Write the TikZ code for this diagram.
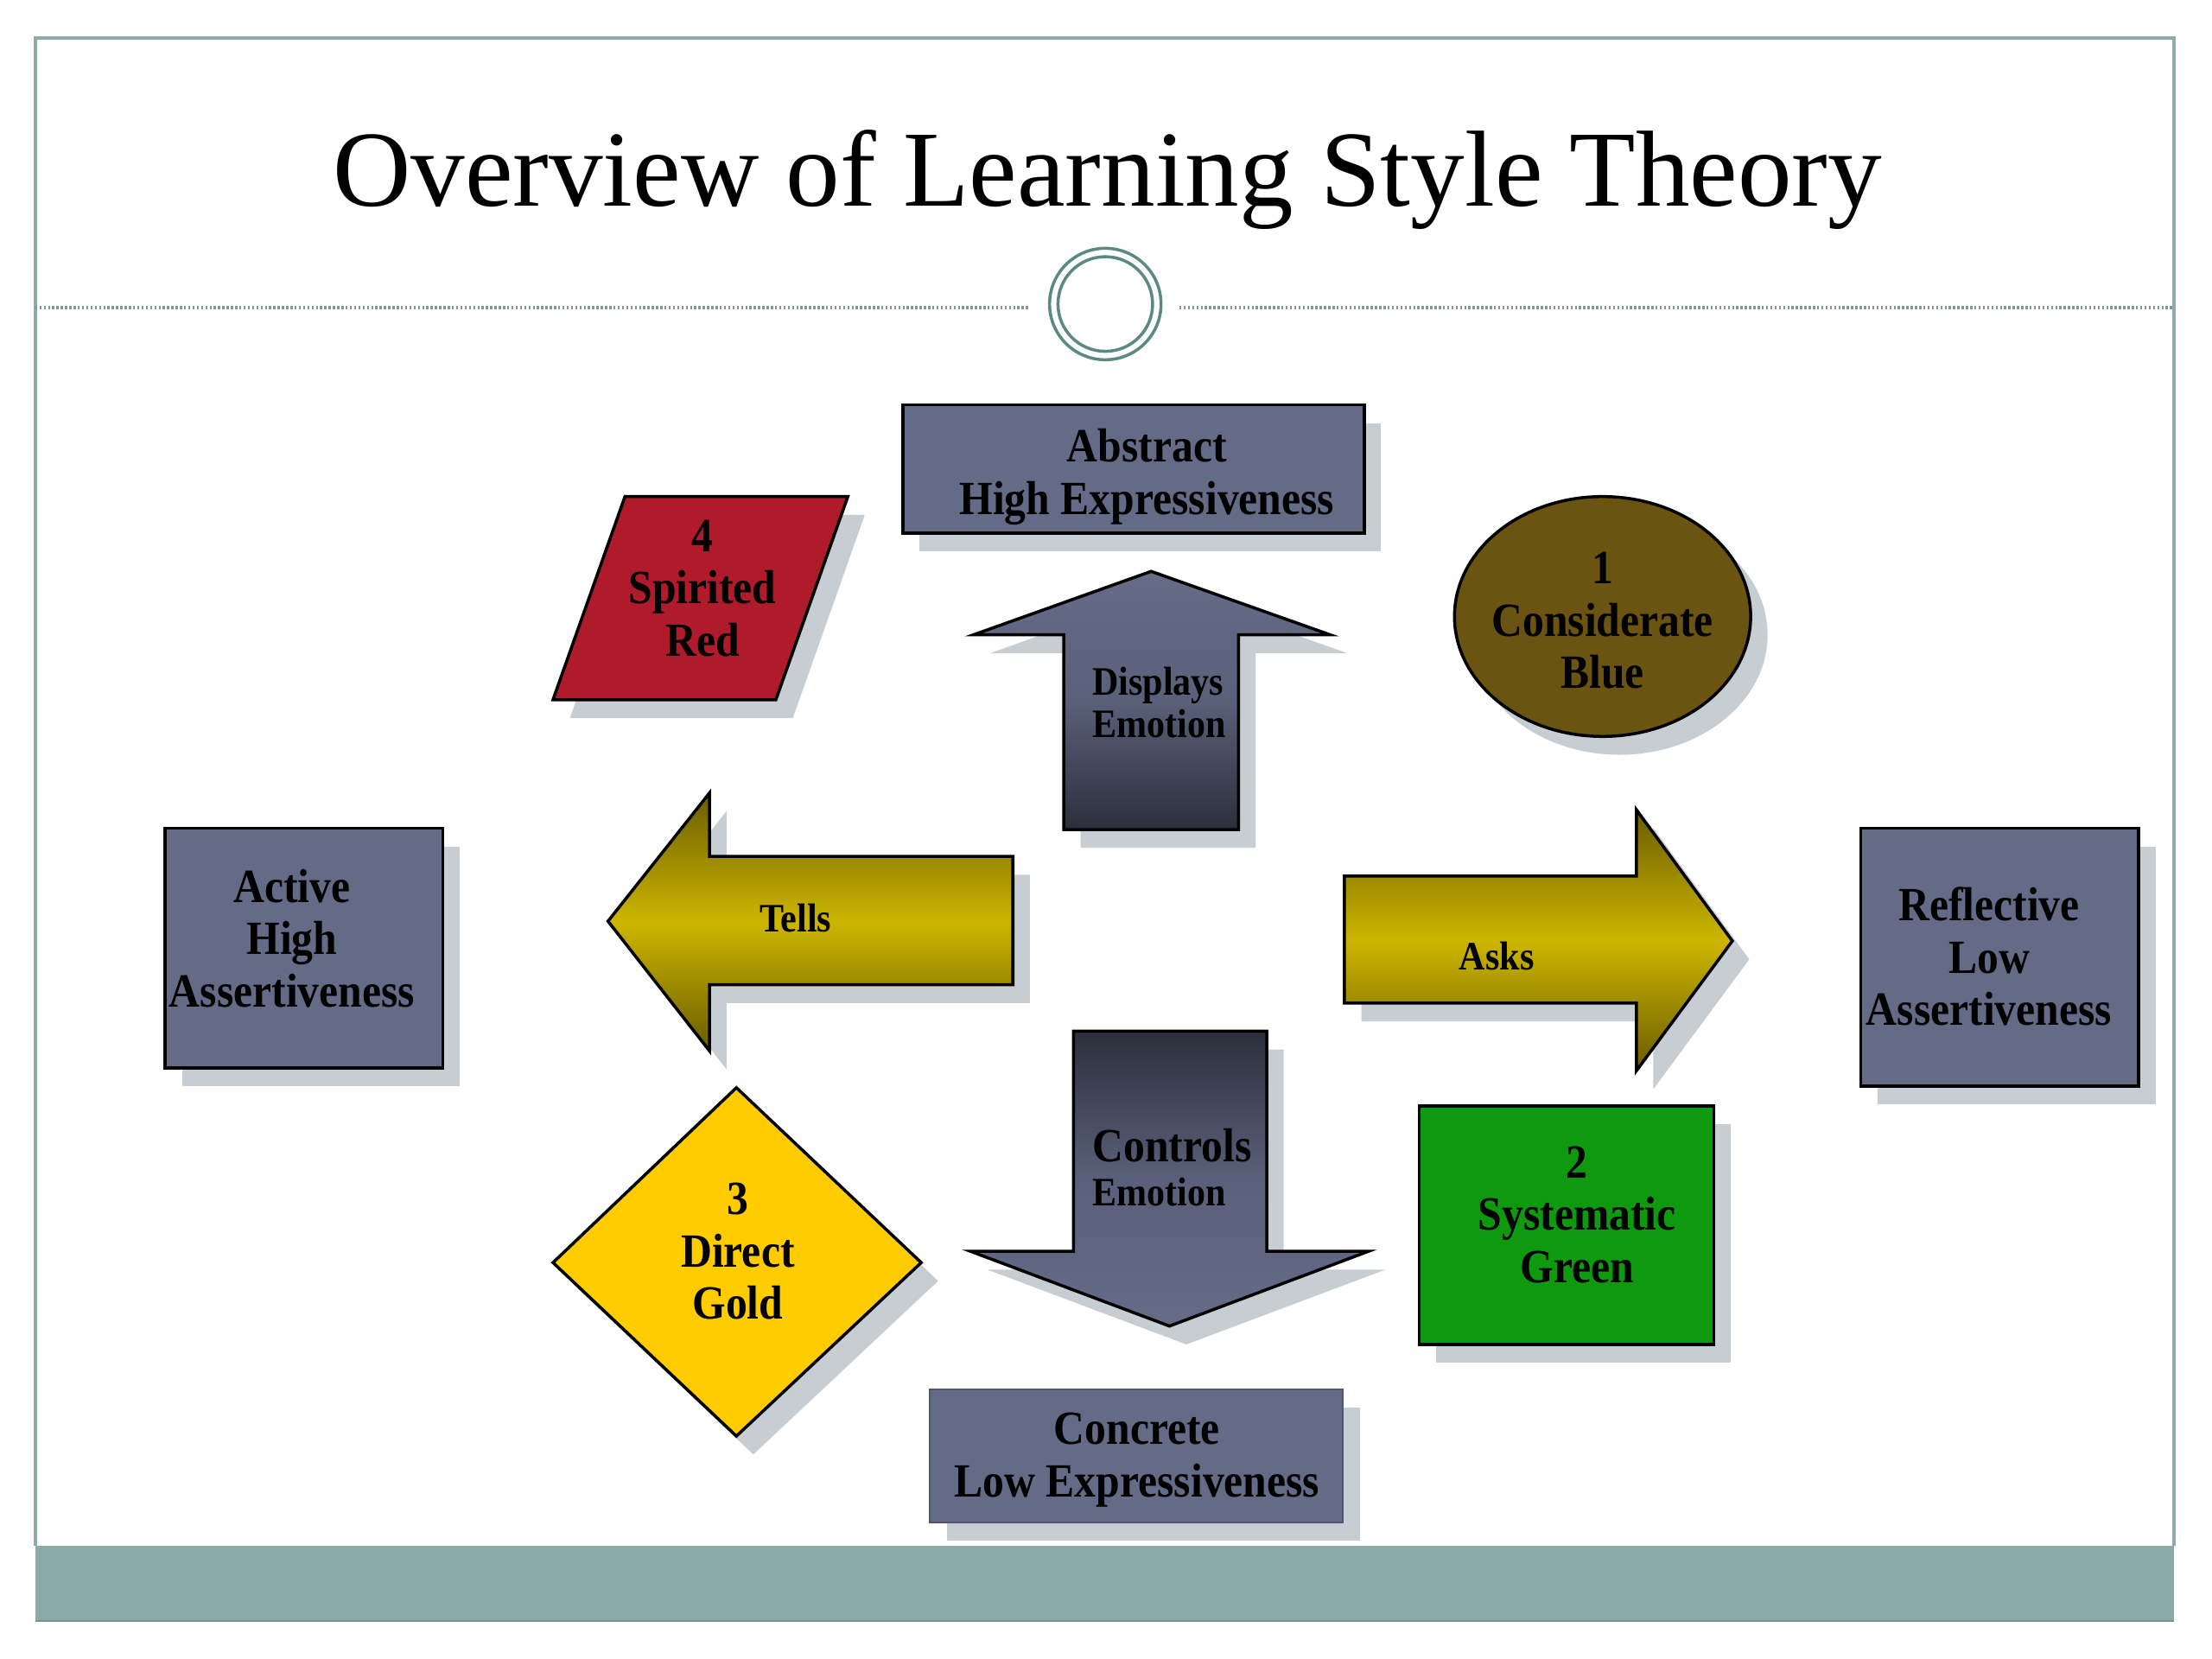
\documentclass[tikz,border=0pt]{standalone}
\usepackage{fontspec}
\setmainfont{Liberation Serif}
\newfontfamily\bodyfont[FakeStretch=0.9]{Liberation Serif}
\definecolor{slate}{HTML}{646B87}
\definecolor{shadowc}{HTML}{C6CED3}
\definecolor{framec}{HTML}{8FAAAA}
\definecolor{ringc}{HTML}{5A8A80}
\definecolor{bandc}{HTML}{8CAAAA}
\definecolor{redc}{HTML}{B01B2C}
\definecolor{brownc}{HTML}{6B5311}
\definecolor{goldc}{HTML}{FFCC00}
\definecolor{greenc}{HTML}{0E990E}
\definecolor{upTop}{HTML}{666C88}
\definecolor{upMid}{HTML}{5A6079}
\definecolor{upBot}{HTML}{2C2F3B}
\definecolor{ydark}{HTML}{6A5C00}
\definecolor{ybright}{HTML}{CDB600}
\begin{document}
\begin{tikzpicture}[x=0.016327cm,y=-0.016327cm,
  dropsh/.style={fill=shadowc, shift={(12,13)}},
  boxsty/.style={fill=slate, draw=black, line width=1pt},
  outl/.style={draw=black, line width=1pt},
  bigtxt/.style={font=\bodyfont\bfseries\fontsize{15.7}{17.2}\selectfont, align=center, inner sep=0pt},
  smalltxt/.style={font=\bodyfont\bfseries\fontsize{13.3}{13.9}\selectfont, align=left, inner sep=0pt},
  upsh/.style={top color=upTop, bottom color=upBot, middle color=upMid},
  downsh/.style={top color=upBot, bottom color=upTop, middle color=upMid},
  ysh/.style={top color=ydark, bottom color=ydark, middle color=ybright}]
\useasboundingbox (0,0) rectangle (1568,1176);
\fill[white] (0,0) rectangle (1568,1176);

% frame
\draw[framec, line width=1.1pt] (25,1096) -- (25,27) -- (1541,27) -- (1541,1096);
\fill[bandc] (25,1096) rectangle (1541,1149);
\draw[framec!85!black, line width=0.6pt] (25,1149) -- (1541,1149);

% title and separator
\node[font=\fontsize{35.6}{40}\selectfont, anchor=base, inner sep=0pt] (title) at (785,146) {Overview of Learning Style Theory};
\coordinate (sepL1) at (25,218);
\coordinate (sepL2) at (730,218);
\coordinate (sepR1) at (836,218);
\coordinate (sepR2) at (1541,218);
\draw[framec!90!black, line width=0.9pt, dash pattern=on 0.7pt off 0.7pt] (sepL1) -- (sepL2);
\draw[framec!90!black, line width=0.9pt, dash pattern=on 0.7pt off 0.7pt] (sepR1) -- (sepR2);
\node[circle, draw=ringc, line width=1pt, minimum size=1.29cm, inner sep=0pt] (ring) at (783.5,215.5) {};
\node[circle, draw=ringc, line width=1pt, minimum size=1.095cm, inner sep=0pt] (ringin) at (783.5,215.5) {};

% shadows
\fill[dropsh] (640,287) rectangle (967,378);
\fill[dropsh] (443,352) -- (601,352) -- (550,496) -- (392,496) -- cycle;
\fill[dropsh] (816,405) -- (943,450) -- (878,450) -- (878,588) -- (754,588) -- (754,450) -- (690,450) -- cycle;
\fill[dropsh] (1136,437) ellipse [x radius=1.714cm, y radius=1.388cm];
\fill[dropsh] (117,587) rectangle (314,757);
\fill[dropsh] (431,653) -- (503,562) -- (503,607) -- (718,607) -- (718,698) -- (503,698) -- (503,745) -- cycle;
\fill[dropsh] (953,621) -- (1160,621) -- (1160,574) -- (1228,667) -- (1160,759) -- (1160,711) -- (953,711) -- cycle;
\fill[dropsh] (1319,587) rectangle (1516,770);
\fill[dropsh] (522,771) -- (653,895) -- (522,1018) -- (392,895) -- cycle;
\fill[dropsh] (761,731) -- (898,731) -- (898,887) -- (970,887) -- (829,940) -- (688,887) -- (761,887) -- cycle;
\fill[dropsh] (1006,784) rectangle (1215,953);
\fill[dropsh] (659,985) rectangle (952,1079);

% shapes
\path[boxsty] (640,287) rectangle (967,378);
\path[outl, fill=redc] (443,352) -- (601,352) -- (550,496) -- (392,496) -- cycle;
\shadedraw[outl, upsh] (816,405) -- (943,450) -- (878,450) -- (878,588) -- (754,588) -- (754,450) -- (690,450) -- cycle;
\path[outl, fill=brownc] (1136,437) ellipse [x radius=1.714cm, y radius=1.388cm];
\path[boxsty] (117,587) rectangle (314,757);
\shadedraw[outl, ysh] (431,653) -- (503,562) -- (503,607) -- (718,607) -- (718,698) -- (503,698) -- (503,745) -- cycle;
\shadedraw[outl, ysh] (953,621) -- (1160,621) -- (1160,574) -- (1228,667) -- (1160,759) -- (1160,711) -- (953,711) -- cycle;
\path[boxsty] (1319,587) rectangle (1516,770);
\path[outl, fill=goldc] (522,771) -- (653,895) -- (522,1018) -- (392,895) -- cycle;
\shadedraw[outl, downsh] (761,731) -- (898,731) -- (898,887) -- (970,887) -- (829,940) -- (688,887) -- (761,887) -- cycle;
\path[outl, fill=greenc] (1006,784) rectangle (1215,953);
\path[fill=slate, draw=slate!80!black, line width=0.6pt] (659,985) rectangle (952,1079);

% texts
\node[bigtxt] (abstract) at (813,338) {Abstract\\High Expressiveness};
\node[bigtxt] (spirited) at (498,417) {4\\Spirited\\Red};
\node[smalltxt, anchor=west] (displays) at (774,498) {Displays\\Emotion};
\node[bigtxt] (considerate) at (1136,440) {1\\Considerate\\Blue};
\node[bigtxt] (active) at (207,665) {Active\\High\\Assertiveness};
\node[smalltxt] (tells) at (564,651) {Tells};
\node[smalltxt] (asks) at (1061,678) {Asks};
\node[bigtxt] (reflective) at (1410,678) {Reflective\\Low\\Assertiveness};
\node[bigtxt] (direct) at (523,887) {3\\Direct\\Gold};
\node[bigtxt, anchor=west] (controls) at (774,812) {Controls};
\node[smalltxt, anchor=west] (ctrlemo) at (774,845) {Emotion};
\node[bigtxt] (systematic) at (1118,861) {2\\Systematic\\Green};
\node[bigtxt] (concrete) at (806,1035) {Concrete\\Low Expressiveness};
\end{tikzpicture}
\end{document}
